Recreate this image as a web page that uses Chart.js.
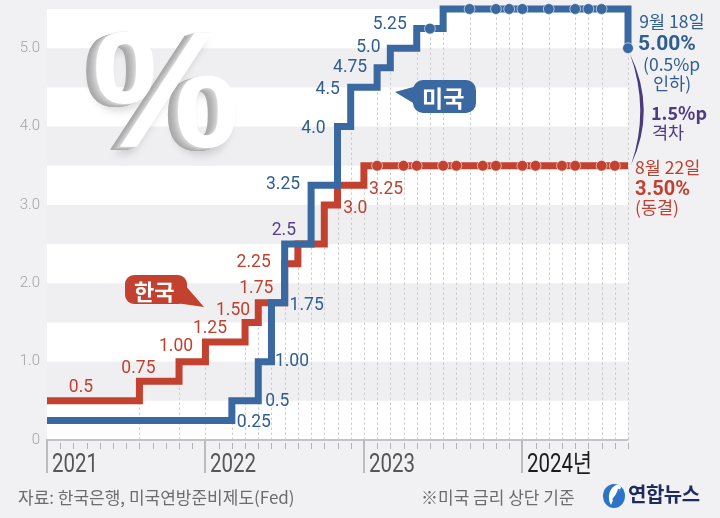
<!DOCTYPE html>
<html><head><meta charset="utf-8">
<script src="https://cdn.jsdelivr.net/npm/chart.js@4.4.1/dist/chart.umd.min.js"></script>
<style>
html,body{margin:0;padding:0;background:#f1f1f3;}
#wrap{position:relative;width:720px;height:518px;overflow:hidden;background:#f1f1f3;font-family:'Noto Sans CJK KR','Noto Sans',sans-serif;}
canvas{position:absolute;left:0;top:0;}
svg{position:absolute;left:0;top:0;}
.t{position:absolute;line-height:1;white-space:nowrap;}
.pct{left:92px;top:7px;font-family:'Liberation Sans',Arial,sans-serif;font-weight:700;font-size:166px;color:#ffffff;
text-shadow:-1px 0 0 #d9d9d9,-2px 1px 0 #d0d0d0,-3px 1px 0 #c9c9c9,-4px 1px 0 #c3c3c3,-5px 2px 0 #bdbdbd,-6px 2px 0 #b8b8b8,-7px 2px 0 #b3b3b3,-8px 3px 0 #aeaeae,-9px 3px 0 #ababab,-10px 3px 0 #a8a8a8,-5px 7px 9px rgba(0,0,0,0.15);}
.bub{color:#fff;font-weight:700;font-size:22px;}
.us{color:#2f5e8f;}
.kr{color:#c0412f;}
.pu{color:#4f3b84;}
.foot{color:#6c6c6c;font-size:17px;}
</style></head><body>
<div id="wrap">
<canvas id="c" width="720" height="518"></canvas>
<div class="t pct">%</div>
<svg width="720" height="518" viewBox="0 0 720 518">
  <rect x="125" y="275" width="62" height="29" rx="9" fill="#c2412f"/>
  <polygon points="184,284 204,307 176,303" fill="#c2412f"/>
  <rect x="413" y="80" width="63" height="33" rx="10" fill="#3a68a0"/>
  <polygon points="417,86 395,92 423,109" fill="#3a68a0"/>
  <path d="M630,54 Q657,110 631,165 Q650,110 630,54 Z" fill="#4a3b7c"/>
  <ellipse cx="614" cy="496" rx="11" ry="12" fill="#2b74c8"/>
  <path d="M611,505 Q606,496 612,488 Q618,482 621,487 Q619,494 613,500 Z" fill="#ffffff"/>
  <path d="M613,500 Q618,494 619,489" stroke="#2b74c8" stroke-width="2" fill="none"/>
</svg>
<div class="t bub" style="left:134px;top:279px;">한국</div>
<div class="t bub" style="left:422px;top:86px;font-size:23px;">미국</div>

<div class="t us" style="left:638px;top:12px;font-size:17.5px;width:68px;text-align:center;">9월 18일</div>
<div class="t us" style="left:638px;top:33px;font-size:21px;font-weight:700;font-family:Roboto,'Noto Sans CJK KR';">5.00%</div>
<div class="t us" style="left:643px;top:55px;font-size:17.5px;">(0.5%p</div>
<div class="t us" style="left:653px;top:74px;font-size:17.5px;">인하)</div>
<div class="t pu" style="left:651px;top:103px;font-size:18px;font-weight:700;">1.5%p</div>
<div class="t pu" style="left:652px;top:123px;font-size:17.5px;">격차</div>
<div class="t kr" style="left:635px;top:158px;font-size:17.5px;">8월 22일</div>
<div class="t kr" style="left:635px;top:178px;font-size:20px;font-weight:700;font-family:Roboto,'Noto Sans CJK KR';">3.50%</div>
<div class="t kr" style="left:635px;top:198px;font-size:17.5px;">(동결)</div>

<div class="t foot" style="left:18px;top:488px;">자료: 한국은행, 미국연방준비제도(Fed)</div>
<div class="t foot" style="left:421px;top:488px;">※미국 금리 상단 기준</div>
<div class="t" style="left:628px;top:484px;font-size:20px;font-weight:700;color:#1d2b5e;letter-spacing:-0.5px;">연합뉴스</div>
</div>
<script>
// ---- data (months since Jan 2021) ----
const usMonths = [0,14,16,17,18,20,22,23,25,26,28,29,30,32,34,35,36,38,40,41,42,44];
const usRates  = [0.25,0.5,1.0,1.75,2.5,3.25,4.0,4.5,4.75,5.0,5.25,5.25,5.5,5.5,5.5,5.5,5.5,5.5,5.5,5.5,5.5,5.0];
const usDotMonths = [29,32,34,35,36,38,40,41,42,44];
const krMonths = [0,7,10,12,15,16,18,19,21,22,24,25,27,28,30,31,33,34,36,37,39,40,42,43,44];
const krRates  = [0.5,0.75,1.0,1.25,1.5,1.75,2.25,2.5,3.0,3.25,3.5,3.5,3.5,3.5,3.5,3.5,3.5,3.5,3.5,3.5,3.5,3.5,3.5,3.5,3.5];
const krDotMonths = [25,27,28,30,31,33,34,36,37,39,40,42,43];
const yTicks = [0,1,2,3,4,5];
const yTickLabels = ['0','1.0','2.0','3.0','4.0','5.0'];
const years = ['2021','2022','2023','2024년'];
const yearMonths = [0,12,24,36];
const krLabels = ['0.5','0.75','1.00','1.25','1.50','1.75','2.25','3.0','3.25'];
const krLabelAt = [[0,0.5],[7,0.75],[10,1.0],[12,1.25],[15,1.5],[16,1.75],[18,2.25],[21,3.0],[22,3.25]];
const usLabels = ['0.25','0.5','1.00','1.75','3.25','4.0','4.5','4.75','5.0','5.25'];
const usLabelAt = [[14,0.25],[16,0.5],[17,1.0],[18,1.75],[20,3.25],[22,4.0],[23,4.5],[25,4.75],[26,5.0],[28,5.25]];
const bothLabels = ['2.5'];
const bothLabelAt = [[19,2.5]];

// ---- style ----
const BLUE = '#3a68a0', RED = '#c2412f';
const krOff = [[34,-13],[-1,-13],[-3,-15],[4.5,-13],[-12,-12],[-2,-14],[-31,-1.5],[31,4],[48.5,4]];
const usOff = [[22,2],[19,1],[20.5,0],[22,3],[-28,-1],[-24,2],[-23,2],[-27,-0.5],[-22,-1],[-27,-4]];
const bothOff = [[-14,-13]];

const usData = usMonths.map((m,i)=>({x:m,y:usRates[i]}));
const krData = krMonths.map((m,i)=>({x:m,y:krRates[i]}));
const usRad = usMonths.map(m=>usDotMonths.includes(m)?5.4:0);
const krRad = krMonths.map(m=>krDotMonths.includes(m)?5.4:0);

const deco = {
  id:'deco',
  beforeDatasetsDraw(chart){
    const {ctx, chartArea:a, scales:{x,y}} = chart;
    const top = y.getPixelForValue(y.max), bot = y.getPixelForValue(0);
    ctx.save();
    ctx.fillStyle = '#ffffff';
    ctx.fillRect(a.left, top, a.right-a.left, bot-top);
    ctx.fillStyle = '#efeff1';
    yTicks.slice(1).forEach(v=>{
      const y1 = y.getPixelForValue(v), y2 = y.getPixelForValue(v-0.5);
      ctx.fillRect(a.left, y1, a.right-a.left, y2-y1);
    });
    ctx.strokeStyle = '#cdcdcd'; ctx.lineWidth = 1; ctx.setLineDash([2.5,2.5]);
    [[usMonths,usRates],[krMonths,krRates]].forEach(([ms,rs])=>{
      ms.forEach((m,i)=>{
        if (m===0) return;
        const px = Math.round(x.getPixelForValue(m))+0.5;
        ctx.beginPath(); ctx.moveTo(px, bot); ctx.lineTo(px, y.getPixelForValue(rs[i])); ctx.stroke();
      });
    });
    ctx.restore();
  },
  afterDraw(chart){
    const {ctx, chartArea:a, scales:{x,y}} = chart;
    const bot = y.getPixelForValue(0);
    ctx.save();
    ctx.fillStyle = '#a3a3a3'; ctx.font = '300 15px Roboto'; ctx.textAlign='right'; ctx.textBaseline='middle';
    yTicks.forEach((v,i)=>ctx.fillText(yTickLabels[i], 40, y.getPixelForValue(v)));
    ctx.strokeStyle = '#c4c4c4'; ctx.lineWidth = 2;
    ctx.beginPath(); ctx.moveTo(a.left-1, bot); ctx.lineTo(a.right, bot); ctx.stroke();
    ctx.strokeStyle = '#b3b3b3'; ctx.lineWidth = 1;
    for (let m=1; m<=x.max; m++){
      if (m%12===0) continue;
      const px = Math.round(x.getPixelForValue(m))+0.5;
      ctx.beginPath(); ctx.moveTo(px, bot+3); ctx.lineTo(px, bot+9); ctx.stroke();
    }
    ctx.strokeStyle = '#bcbcbc'; ctx.lineWidth = 2;
    yearMonths.forEach((m,i)=>{
      const px = Math.round(x.getPixelForValue(m));
      ctx.beginPath(); ctx.moveTo(px, bot); ctx.lineTo(px, bot+33); ctx.stroke();
      ctx.save();
      ctx.translate(px+5, bot+32);
      ctx.scale(0.82,1);
      ctx.font = "25px Roboto, 'Noto Sans CJK KR'";
      ctx.textAlign='left'; ctx.textBaseline='alphabetic';
      ctx.fillStyle = i===years.length-1 ? '#1c1c1c' : '#565656';
      ctx.fillText(years[i], 0, 0);
      ctx.restore();
    });
    ctx.font = '17.5px Roboto'; ctx.textAlign='center'; ctx.textBaseline='middle';
    const put = (labels, at, off, color)=>{
      ctx.fillStyle = color;
      labels.forEach((t,i)=>{
        ctx.fillText(t, x.getPixelForValue(at[i][0])+off[i][0], y.getPixelForValue(at[i][1])+off[i][1]);
      });
    };
    put(krLabels, krLabelAt, krOff, '#c0412f');
    put(usLabels, usLabelAt, usOff, '#2f5e8f');
    put(bothLabels, bothLabelAt, bothOff, '#5a3f8c');
    ctx.restore();
  }
};

new Chart(document.getElementById('c'), {
  type:'line',
  data:{datasets:[
    {label:'미국', data:usData, borderColor:BLUE, backgroundColor:BLUE, borderWidth:7, stepped:true,
     pointRadius:usRad, pointHoverRadius:usRad, pointBackgroundColor:BLUE, pointBorderColor:'rgba(255,255,255,0.6)', pointBorderWidth:1,
     clip:false, borderJoinStyle:'miter', borderCapStyle:'butt', fill:false, tension:0},
    {label:'한국', data:krData, borderColor:RED, backgroundColor:RED, borderWidth:7, stepped:true,
     pointRadius:krRad, pointHoverRadius:krRad, pointBackgroundColor:RED, pointBorderColor:'rgba(255,255,255,0.6)', pointBorderWidth:1,
     clip:false, borderJoinStyle:'miter', borderCapStyle:'butt', fill:false, tension:0}
  ]},
  options:{
    responsive:false, animation:false, devicePixelRatio:1, events:[],
    layout:{padding:{left:47,right:92,top:9,bottom:78}},
    plugins:{legend:{display:false}, tooltip:{enabled:false}},
    scales:{
      x:{type:'linear', min:0, max:44, display:false},
      y:{type:'linear', min:0, max:5.5, display:false}
    }
  },
  plugins:[deco]
});
</script>
</body></html>
